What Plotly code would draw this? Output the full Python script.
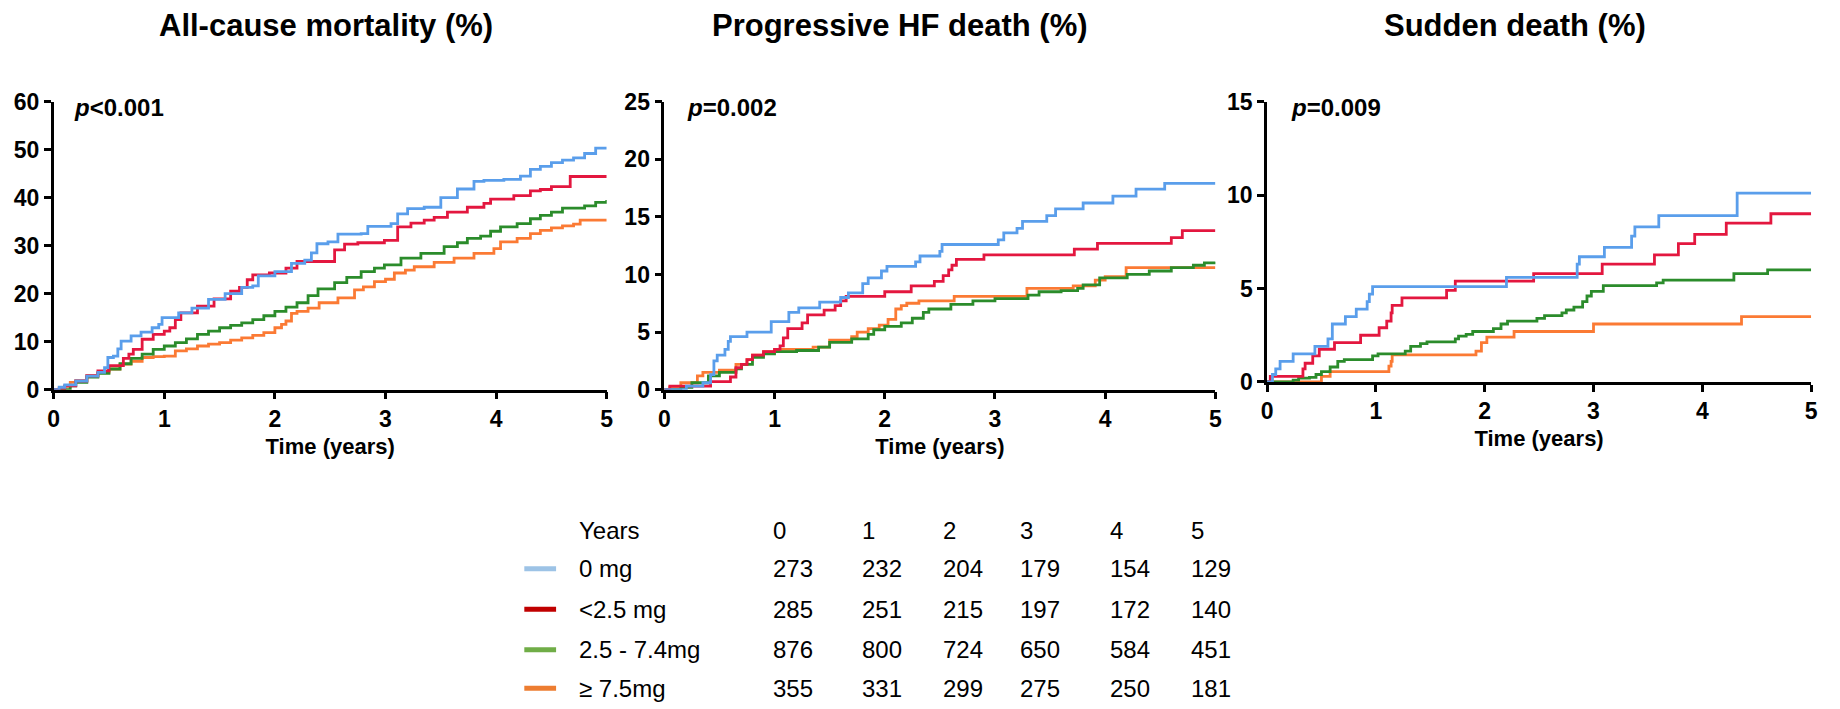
import plotly.graph_objects as go

# ---------------- data ----------------
GROUPS = ["0 mg", "<2.5 mg", "2.5 - 7.4mg", "\u2265 7.5mg"]
LINE_COLORS = ["#5A9EEB", "#E3173F", "#2B8C2B", "#FB7A34"]
SWATCH_COLORS = ["#9DC3E6", "#C00000", "#70AD47", "#ED7D31"]

PANEL_TITLES = ["All-cause mortality (%)", "Progressive HF death (%)", "Sudden death (%)"]
P_VALUES = ["<i>p</i>&lt;0.001", "<i>p</i>=0.002", "<i>p</i>=0.009"]
Y_MAX = [60, 25, 15]
Y_DTICK = [10, 5, 5]

# All-cause mortality
ACM_0MG_T = [0, 0.05, 0.1, 0.2, 0.3, 0.4, 0.46, 0.49, 0.54, 0.58, 0.61, 0.7, 0.79, 0.89, 0.95, 0.98, 1.13, 1.25, 1.4, 1.55,
             1.7, 1.8, 1.85, 2.0, 2.15, 2.27, 2.33, 2.38, 2.48, 2.57, 2.78, 2.84, 3.05, 3.11, 3.2, 3.35, 3.5, 3.65, 3.8, 3.89,
             4.07, 4.22, 4.31, 4.4, 4.5, 4.6, 4.7, 4.8, 4.9, 5.0]
ACM_0MG_Y = [0, 0.5, 1.0, 1.8, 2.8, 3.6, 4.6, 6.7, 7.0, 8.5, 10.1, 11.2, 12.0, 12.9, 13.6, 15.0, 16.0, 17.0, 18.8, 20.0,
             21.3, 21.6, 23.7, 24.6, 26.3, 27.0, 28.5, 30.4, 30.8, 32.4, 32.5, 34.0, 34.6, 36.6, 37.7, 38.0, 40.0, 41.8, 43.4, 43.6,
             43.8, 44.5, 45.9, 46.5, 47.3, 47.8, 48.3, 49.2, 50.3, 50.3]
ACM_LT25_T = [0, 0.05, 0.1, 0.2, 0.3, 0.4, 0.5, 0.63, 0.68, 0.72, 0.8, 0.9, 1.0, 1.05, 1.1, 1.15, 1.3, 1.45, 1.6, 1.68,
              1.75, 1.8, 1.95, 2.1, 2.2, 2.54, 2.63, 2.75, 2.99, 3.11, 3.23, 3.35, 3.44, 3.56, 3.74, 3.89, 3.95, 4.16, 4.31, 4.4,
              4.5, 4.67, 5.0]
ACM_LT25_Y = [0, 0.3, 0.8, 1.8, 2.9, 3.9, 5.0, 6.5, 7.4, 8.4, 10.5, 11.5, 12.2, 12.9, 14.6, 16.0, 17.4, 18.9, 20.5, 21.3,
              22.9, 23.9, 24.3, 25.3, 26.7, 29.1, 30.3, 30.6, 31.1, 33.9, 34.7, 35.3, 35.9, 37.0, 38.0, 38.8, 39.7, 40.4, 41.4, 41.7,
              42.3, 44.4, 44.4]
ACM_2574_T = [0, 0.15, 0.2, 0.3, 0.4, 0.5, 0.6, 0.7, 0.8, 0.9, 1.0, 1.1, 1.2, 1.3, 1.4, 1.5, 1.6, 1.7, 1.8, 1.9,
              2.0, 2.1, 2.2, 2.3, 2.39, 2.54, 2.65, 2.78, 2.9, 2.99, 3.14, 3.32, 3.53, 3.65, 3.74, 3.86, 3.95, 4.04, 4.19, 4.31,
              4.4, 4.5, 4.6, 4.8, 4.9, 5.0]
ACM_2574_Y = [0, 0.8, 1.5, 2.6, 3.4, 4.3, 5.4, 6.5, 7.4, 8.4, 9.1, 9.8, 10.6, 11.5, 12.2, 12.9, 13.4, 13.9, 14.6, 15.4,
              16.3, 17.2, 18.1, 19.6, 21.0, 22.3, 23.4, 24.6, 25.3, 26.0, 27.4, 28.4, 29.8, 30.6, 31.5, 32.0, 33.0, 33.9, 34.6, 35.6,
              36.3, 37.0, 37.8, 38.3, 39.0, 39.5]
ACM_GE75_T = [0, 0.1, 0.15, 0.2, 0.3, 0.4, 0.5, 0.6, 0.7, 0.8, 0.9, 1.0, 1.1, 1.2, 1.3, 1.4, 1.5, 1.6, 1.7, 1.8,
              1.9, 2.0, 2.06, 2.1, 2.15, 2.2, 2.3, 2.4, 2.57, 2.72, 2.8, 2.9, 3.0, 3.08, 3.18, 3.26, 3.44, 3.62, 3.8, 3.98,
              4.04, 4.19, 4.31, 4.4, 4.5, 4.6, 4.7, 4.76, 5.0]
ACM_GE75_Y = [0, 0.7, 1.5, 1.9, 2.9, 3.6, 4.3, 5.3, 5.9, 6.7, 6.9, 7.0, 8.1, 8.5, 9.1, 9.5, 9.8, 10.3, 10.8, 11.3,
              11.9, 12.9, 13.6, 14.3, 15.9, 16.3, 17.0, 18.1, 19.1, 20.8, 21.4, 22.5, 23.0, 24.3, 24.9, 25.6, 26.5, 27.4, 28.4, 29.4,
              30.8, 31.5, 32.5, 33.2, 33.7, 34.1, 34.5, 35.3, 35.3]

# Progressive HF death
HF_0MG_T = [0, 0.2, 0.35, 0.42, 0.45, 0.48, 0.55, 0.58, 0.6, 0.75, 0.97, 1.13, 1.22, 1.41, 1.6, 1.67, 1.8, 1.85, 1.97, 2.02,
            2.28, 2.32, 2.5, 2.52, 3.03, 3.08, 3.2, 3.25, 3.47, 3.55, 3.8, 4.07, 4.28, 4.54, 5.0]
HF_0MG_Y = [0, 0.3, 0.6, 1.3, 2.5, 3.0, 3.5, 4.2, 4.6, 5.0, 5.9, 6.7, 7.1, 7.6, 8.0, 8.4, 9.2, 9.7, 10.3, 10.7,
            11.1, 11.6, 12.0, 12.6, 13.0, 13.6, 14.0, 14.6, 15.1, 15.7, 16.2, 16.8, 17.4, 17.9, 17.9]
HF_LT25_T = [0, 0.05, 0.42, 0.6, 0.65, 0.7, 0.75, 0.8, 0.9, 1.0, 1.05, 1.08, 1.12, 1.25, 1.3, 1.45, 1.55, 1.6, 1.65, 2.0,
             2.24, 2.45, 2.53, 2.58, 2.61, 2.65, 2.9, 3.72, 3.93, 4.6, 4.7, 5.0]
HF_LT25_Y = [0, 0.3, 0.7, 1.1, 1.9, 2.2, 2.6, 3.0, 3.3, 3.5, 3.8, 4.5, 5.3, 5.8, 6.5, 6.9, 7.3, 7.7, 8.1, 8.5,
             9.0, 9.4, 9.9, 10.4, 10.8, 11.3, 11.7, 12.2, 12.7, 13.2, 13.8, 13.8]
HF_2574_T = [0, 0.15, 0.25, 0.4, 0.5, 0.65, 0.7, 0.8, 0.9, 1.0, 1.2, 1.4, 1.5, 1.7, 1.85, 1.9, 2.0, 2.15, 2.25, 2.35,
             2.4, 2.6, 2.8, 3.0, 3.3, 3.4, 3.6, 3.75, 3.8, 3.95, 4.2, 4.4, 4.6, 4.8, 4.9, 5.0]
HF_2574_Y = [0, 0.2, 0.6, 1.2, 1.5, 1.8, 2.2, 2.8, 3.1, 3.3, 3.4, 3.7, 4.1, 4.4, 4.8, 5.2, 5.5, 5.8, 6.2, 6.7,
             7.0, 7.4, 7.7, 7.9, 8.2, 8.5, 8.6, 8.8, 9.1, 9.7, 10.0, 10.3, 10.6, 10.8, 11.0, 11.1]
HF_GE75_T = [0, 0.05, 0.15, 0.3, 0.35, 0.5, 0.65, 0.75, 0.8, 0.9, 1.0, 1.35, 1.5, 1.7, 1.75, 1.85, 1.95, 2.03, 2.1, 2.15,
             2.2, 2.31, 2.63, 3.29, 3.71, 3.91, 4.0, 4.19, 5.0]
HF_GE75_Y = [0, 0.2, 0.6, 1.2, 1.5, 1.7, 2.2, 2.6, 3.0, 3.3, 3.5, 3.7, 4.3, 4.6, 5.0, 5.3, 5.6, 6.1, 7.0, 7.3,
             7.5, 7.7, 8.1, 8.8, 9.0, 9.5, 9.8, 10.6, 10.6]

# Sudden death
SD_0MG_T = [0, 0.05, 0.08, 0.12, 0.24, 0.44, 0.56, 0.6, 0.72, 0.82, 0.92, 0.94, 0.97, 2.2, 2.85, 2.87, 3.1, 3.35, 3.38, 3.6,
            4.32, 5.0]
SD_0MG_Y = [0, 0.4, 0.7, 1.1, 1.5, 1.9, 2.3, 3.1, 3.5, 3.9, 4.3, 4.7, 5.1, 5.6, 6.3, 6.7, 7.2, 7.8, 8.3, 8.9,
            10.1, 10.1]
SD_LT25_T = [0, 0.03, 0.33, 0.35, 0.42, 0.48, 0.62, 0.86, 1.03, 1.1, 1.14, 1.15, 1.24, 1.65, 1.73, 2.45, 3.08, 3.56, 3.78, 3.93,
             4.22, 4.63, 5.0]
SD_LT25_Y = [0, 0.3, 0.7, 1.0, 1.4, 1.75, 2.1, 2.5, 2.9, 3.25, 3.7, 4.1, 4.5, 4.9, 5.4, 5.8, 6.3, 6.8, 7.4, 7.9,
             8.5, 9.0, 9.0]
SD_2574_T = [0, 0.24, 0.29, 0.39, 0.45, 0.5, 0.58, 0.65, 0.71, 0.97, 1.02, 1.27, 1.32, 1.41, 1.47, 1.73, 1.76, 1.83, 1.89, 2.08,
             2.15, 2.21, 2.48, 2.55, 2.71, 2.75, 2.82, 2.9, 2.94, 2.98, 3.09, 3.58, 3.64, 4.29, 4.6, 5.0]
SD_2574_Y = [0, 0.1, 0.2, 0.25, 0.4, 0.55, 0.8, 1.1, 1.2, 1.4, 1.5, 1.65, 1.9, 2.05, 2.15, 2.3, 2.45, 2.55, 2.7, 2.85,
             3.1, 3.25, 3.4, 3.55, 3.7, 3.85, 4.0, 4.3, 4.6, 4.85, 5.15, 5.3, 5.45, 5.8, 6.0, 6.0]
SD_GE75_T = [0, 0.5, 0.58, 1.12, 1.14, 1.15, 1.92, 1.97, 2.02, 2.27, 3.0, 4.36, 5.0]
SD_GE75_Y = [0, 0.3, 0.55, 0.85, 1.1, 1.45, 1.65, 2.1, 2.4, 2.7, 3.1, 3.5, 3.5]

# Numbers at risk
YEARS = [0, 1, 2, 3, 4, 5]
RISK_0MG = [273, 232, 204, 179, 154, 129]
RISK_LT25 = [285, 251, 215, 197, 172, 140]
RISK_2574 = [876, 800, 724, 650, 584, 451]
RISK_GE75 = [355, 331, 299, 275, 250, 181]

# ---------------- layout helpers ----------------
W, H = 1840, 709
FONT = "Liberation Sans, Arial, sans-serif"


def px(x):
    return x / W


def py(y):
    return 1 - y / H


# pixel boxes of the three panels: (left, right, top, bottom)
PANEL_BOX = [(48, 605, 92, 391), (663, 1218, 92, 391), (1270, 1818, 92, 383)]
TITLE_X = [322, 900, 1520]
PVAL_X = [66, 684, 1292]

panels = [
    [(ACM_0MG_T, ACM_0MG_Y), (ACM_LT25_T, ACM_LT25_Y), (ACM_2574_T, ACM_2574_Y), (ACM_GE75_T, ACM_GE75_Y)],
    [(HF_0MG_T, HF_0MG_Y), (HF_LT25_T, HF_LT25_Y), (HF_2574_T, HF_2574_Y), (HF_GE75_T, HF_GE75_Y)],
    [(SD_0MG_T, SD_0MG_Y), (SD_LT25_T, SD_LT25_Y), (SD_2574_T, SD_2574_Y), (SD_GE75_T, SD_GE75_Y)],
]

fig = go.Figure()
annotations = []
shapes = []

for i, series in enumerate(panels):
    xa = "x" if i == 0 else f"x{i+1}"
    ya = "y" if i == 0 else f"y{i+1}"
    for g in [3, 2, 1, 0]:
        t, v = series[g]
        fig.add_trace(go.Scatter(
            x=t, y=v, mode="lines", line=dict(color=LINE_COLORS[g], width=2.8, shape="hv"),
            xaxis=xa, yaxis=ya, showlegend=False, hoverinfo="skip"))
    l, r, top, bot = PANEL_BOX[i]
    axkey = "xaxis" if i == 0 else f"xaxis{i+1}"
    aykey = "yaxis" if i == 0 else f"yaxis{i+1}"
    fig.update_layout({
        axkey: dict(domain=[px(l), px(r)], range=[0, 5], anchor=ya, dtick=1, tick0=0,
                    showline=True, linecolor="black", linewidth=2.5, ticks="outside", ticklen=7,
                    tickwidth=2.5, tickcolor="black", showgrid=False, zeroline=False,
                    tickfont=dict(family=FONT, size=23, color="black", weight="bold"),
                    title=dict(text="<b>Time (years)</b>", font=dict(family=FONT, size=22, color="black"),
                               standoff=8)),
        aykey: dict(domain=[py(bot), py(top)], range=[0, Y_MAX[i]], anchor=xa, dtick=Y_DTICK[i], tick0=0,
                    showline=True, linecolor="black", linewidth=2.5, ticks="outside", ticklen=7,
                    tickwidth=2.5, tickcolor="black", showgrid=False, zeroline=False,
                    tickfont=dict(family=FONT, size=23, color="black", weight="bold")),
    })
    annotations.append(dict(text=f"<b>{PANEL_TITLES[i]}</b>", x=px(TITLE_X[i]), y=py(13), xref="paper", yref="paper",
                            xanchor="center", yanchor="middle", showarrow=False,
                            font=dict(family=FONT, size=31, color="black")))
    annotations.append(dict(text=f"<b>{P_VALUES[i]}</b>", x=px(PVAL_X[i]), y=py(98), xref="paper", yref="paper",
                            xanchor="left", yanchor="middle", showarrow=False,
                            font=dict(family=FONT, size=24, color="black")))

# numbers-at-risk table
TABLE_LABEL_X = 575
TABLE_COL_X = [770, 860, 942, 1019, 1110, 1191]
TABLE_ROW_Y = [537, 577, 619, 661, 701]
TFONT = dict(family=FONT, size=24, color="black")

annotations.append(dict(text="Years", x=px(TABLE_LABEL_X), y=py(TABLE_ROW_Y[0]), xref="paper", yref="paper",
                        xanchor="left", yanchor="middle", showarrow=False, font=TFONT))
for j, yr in enumerate(YEARS):
    annotations.append(dict(text=str(yr), x=px(TABLE_COL_X[j]), y=py(TABLE_ROW_Y[0]), xref="paper", yref="paper",
                            xanchor="left", yanchor="middle", showarrow=False, font=TFONT))
for g, (name, risk) in enumerate(zip(GROUPS, [RISK_0MG, RISK_LT25, RISK_2574, RISK_GE75])):
    ry = TABLE_ROW_Y[g + 1]
    shapes.append(dict(type="line", xref="paper", yref="paper", x0=px(522), x1=px(554), y0=py(ry), y1=py(ry),
                       line=dict(color=SWATCH_COLORS[g], width=5)))
    annotations.append(dict(text=name.replace("<", "&lt;"), x=px(TABLE_LABEL_X), y=py(ry), xref="paper", yref="paper",
                            xanchor="left", yanchor="middle", showarrow=False, font=TFONT))
    for j, n in enumerate(risk):
        annotations.append(dict(text=str(n), x=px(TABLE_COL_X[j]), y=py(ry), xref="paper", yref="paper",
                                xanchor="left", yanchor="middle", showarrow=False, font=TFONT))

fig.update_layout(width=W, height=H, margin=dict(l=0, r=0, t=0, b=0), plot_bgcolor="white", paper_bgcolor="white",
                  annotations=annotations, shapes=shapes, showlegend=False)

fig.write_html("out.html")
